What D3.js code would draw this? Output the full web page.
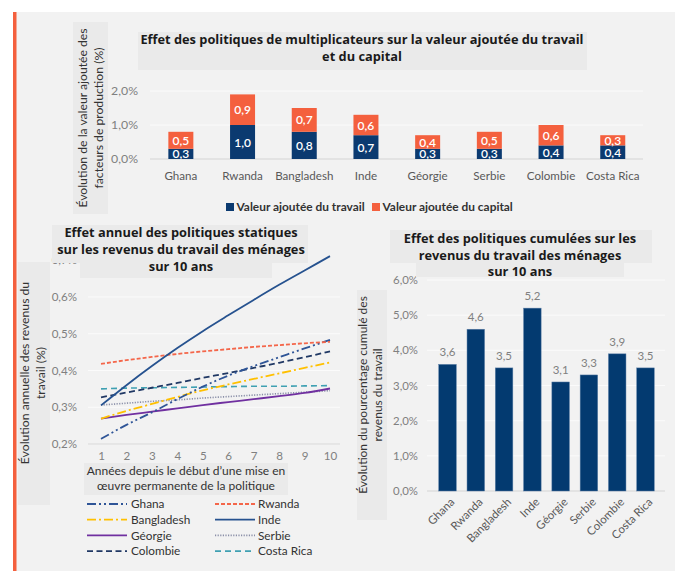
<!DOCTYPE html>
<html>
<head>
<meta charset="utf-8">
<script src="https://cdn.jsdelivr.net/npm/d3@7"></script>
<style>
  body { margin: 0; background: #fff; }
  svg { display: block; font-family: Lato, "Open Sans", sans-serif; }
</style>
</head>
<body>
<svg id="chart" width="675" height="571"></svg>
<script>
// ---- Data ----
const countries = ["Ghana", "Rwanda", "Bangladesh", "Inde", "Géorgie", "Serbie", "Colombie", "Costa Rica"];
const laborValueAdded = [0.3, 1.0, 0.8, 0.7, 0.3, 0.3, 0.4, 0.4];
const capitalValueAdded = [0.5, 0.9, 0.7, 0.6, 0.4, 0.5, 0.6, 0.3];
const valueAddedTicks = [0, 1, 2];

const years = [1, 2, 3, 4, 5, 6, 7, 8, 9, 10];
const ghanaIncome = [0.214, 0.252, 0.286, 0.322, 0.356, 0.386, 0.412, 0.436, 0.460, 0.483];
const rwandaIncome = [0.418, 0.428, 0.437, 0.445, 0.452, 0.458, 0.464, 0.469, 0.474, 0.478];
const bangladeshIncome = [0.269, 0.290, 0.309, 0.328, 0.346, 0.362, 0.377, 0.392, 0.407, 0.422];
const indeIncome = [0.305, 0.360, 0.412, 0.461, 0.507, 0.550, 0.592, 0.633, 0.672, 0.711];
const georgieIncome = [0.269, 0.279, 0.288, 0.297, 0.306, 0.314, 0.322, 0.330, 0.339, 0.351];
const serbieIncome = [0.306, 0.311, 0.316, 0.320, 0.325, 0.329, 0.333, 0.337, 0.341, 0.345];
const colombieIncome = [0.327, 0.340, 0.353, 0.366, 0.380, 0.393, 0.407, 0.421, 0.436, 0.452];
const costaRicaIncome = [0.350, 0.352, 0.353, 0.354, 0.355, 0.356, 0.357, 0.357, 0.358, 0.359];
const incomeTicks = [0.2, 0.3, 0.4, 0.5, 0.6, 0.7];

const cumulativeIncome = [3.6, 4.6, 3.5, 5.2, 3.1, 3.3, 3.9, 3.5];
const cumulativeTicks = [0, 1, 2, 3, 4, 5, 6];

// ---- Helpers ----
const fr = d3.formatLocale({ decimal: ",", thousands: " ", grouping: [3], currency: ["", " €"] });
const f1 = fr.format(".1f");
const pct1 = v => f1(v) + "%";

const NAVY = "#0b3a70";
const ORANGE = "#f4603e";
const PANEL = "#f2f2f2";
const BOX = "#eaeaea";
const TICK = "#808080";
const TEXT = "#333333";
const TITLE_FONT = "'Open Sans', Lato, sans-serif";

const svg = d3.select("#chart");

// Page frame
svg.append("rect").attr("x", 0).attr("y", 0).attr("width", 675).attr("height", 571).attr("fill", "#fff");
svg.append("rect").attr("x", 16).attr("y", 12).attr("width", 659).attr("height", 559).attr("fill", PANEL);
svg.append("rect").attr("x", 13).attr("y", 12).attr("width", 3.5).attr("height", 559).attr("fill", ORANGE);

function box(g, x, y, w, h) {
  g.append("rect").attr("x", x).attr("y", y).attr("width", w).attr("height", h).attr("fill", BOX);
}
function multiline(g, lines, x, y, lh, attrs) {
  const t = g.append("text").attr("x", x).attr("y", y);
  Object.entries(attrs).forEach(([k, v]) => t.attr(k, v));
  lines.forEach((l, i) => t.append("tspan").attr("x", x).attr("dy", i === 0 ? 0 : lh).text(l));
  return t;
}

// =============== Top: stacked value-added bars ===============
{
  const g = svg.append("g");
  const x = d3.scaleBand().domain(countries).range([150, 643.6]).paddingInner(0.6).paddingOuter(0.3);
  const y = d3.scaleLinear().domain([0, 2]).range([159, 91]);

  box(g, 138, 32, 449, 38);
  multiline(g, ["Effet des politiques de multiplicateurs sur la valeur ajoutée du travail", "et du capital"],
    362, 44, 17, { "text-anchor": "middle", "font-weight": 700, "font-size": 12.8, fill: "#1a1a1a", "font-family": TITLE_FONT });

  // y-axis title
  box(g, 73, 22, 35, 192);
  const yt = g.append("g").attr("transform", "translate(90,118) rotate(-90)");
  multiline(yt, ["Évolution de la valeur ajoutée des", "facteurs de production (%)"], 0, -3, 16,
    { "text-anchor": "middle", "font-size": 12.2, fill: TEXT });

  // gridlines
  g.selectAll(".grid").data(valueAddedTicks).join("line")
    .attr("x1", 150).attr("x2", 643).attr("y1", d => y(d)).attr("y2", d => y(d))
    .attr("stroke", d => d === 0 ? "#d4d4d4" : "#fbfbfb").attr("stroke-width", 1);
  const ya = g.append("g").attr("transform", "translate(138,0)")
    .call(d3.axisLeft(y).tickValues(valueAddedTicks).tickFormat(pct1).tickSize(0).tickPadding(0));
  ya.select(".domain").remove();
  ya.selectAll("text").attr("font-size", 12.3).attr("fill", TICK).attr("font-family", "Lato, sans-serif");

  const rows = countries.map((c, i) => ({ c, labor: laborValueAdded[i], capital: capitalValueAdded[i] }));
  const bw = 25;
  const cx = c => x(c) + x.bandwidth() / 2;

  g.selectAll(".lab").data(rows).join("rect")
    .attr("x", d => cx(d.c) - bw / 2).attr("width", bw)
    .attr("y", d => y(d.labor)).attr("height", d => y(0) - y(d.labor)).attr("fill", NAVY);
  g.selectAll(".cap").data(rows).join("rect")
    .attr("x", d => cx(d.c) - bw / 2).attr("width", bw)
    .attr("y", d => y(d.labor + d.capital)).attr("height", d => y(d.labor) - y(d.labor + d.capital)).attr("fill", ORANGE);

  g.selectAll(".labt").data(rows).join("text")
    .attr("x", d => cx(d.c)).attr("y", d => (y(0) + y(d.labor)) / 2 + 4.5)
    .attr("text-anchor", "middle").attr("font-size", 12).attr("font-weight", 600).attr("fill", "#fff")
    .text(d => f1(d.labor));
  g.selectAll(".capt").data(rows).join("text")
    .attr("x", d => cx(d.c)).attr("y", d => (y(d.labor) + y(d.labor + d.capital)) / 2 + 4.5)
    .attr("text-anchor", "middle").attr("font-size", 12).attr("font-weight", 600).attr("fill", "#fff")
    .text(d => f1(d.capital));

  const xa = g.append("g").attr("transform", "translate(0,159)")
    .call(d3.axisBottom(x).tickSize(0).tickPadding(13));
  xa.select(".domain").remove();
  xa.selectAll("text").attr("font-size", 11.6).attr("fill", "#595959").attr("font-family", "Lato, sans-serif");

  // legend
  const leg = [
    { label: "Valeur ajoutée du travail", color: NAVY, x: 226 },
    { label: "Valeur ajoutée du capital", color: ORANGE, x: 372 }
  ];
  const lg = g.selectAll(".leg").data(leg).join("g").attr("transform", d => `translate(${d.x},203)`);
  lg.append("rect").attr("width", 8).attr("height", 8).attr("fill", d => d.color);
  lg.append("text").attr("x", 10.5).attr("y", 8).attr("font-size", 11.9).attr("font-weight", 700)
    .attr("fill", TEXT).text(d => d.label);
}

// =============== Bottom left: annual income lines ===============
{
  const g = svg.append("g");
  const x = d3.scaleLinear().domain([1, 10]).range([101, 330]);
  const y = d3.scaleLinear().domain([0.2, 0.7]).range([444, 260.2]);

  // y-axis title
  box(g, 18, 262, 32, 243);
  const yt = g.append("g").attr("transform", "translate(32,373) rotate(-90)");
  multiline(yt, ["Évolution annuelle des revenus du", "travail (%)"], 0, -3, 15.5,
    { "text-anchor": "middle", "font-size": 12.2, fill: TEXT });

  g.selectAll(".grid").data(incomeTicks.filter(t => t < 0.65)).join("line")
    .attr("x1", 88).attr("x2", 340).attr("y1", d => y(d)).attr("y2", d => y(d))
    .attr("stroke", d => d === 0.2 ? "#d9d9d9" : "#fbfbfb");

  const ya = g.append("g").attr("transform", "translate(77,0)")
    .call(d3.axisLeft(y).tickValues(incomeTicks).tickFormat(pct1).tickSize(0).tickPadding(0));
  ya.select(".domain").remove();
  ya.selectAll("text").attr("font-size", 11.6).attr("fill", TICK).attr("font-family", "Lato, sans-serif");

  const xa = g.append("g").attr("transform", "translate(0,444)")
    .call(d3.axisBottom(x).tickValues(years).tickFormat(d3.format("d")).tickSize(0).tickPadding(8));
  xa.select(".domain").remove();
  xa.selectAll("text").attr("font-size", 11.6).attr("fill", TICK).attr("font-family", "Lato, sans-serif");

  box(g, 84, 463, 204, 32);
  multiline(g, ["Années depuis le début d’une mise en", "œuvre permanente de la politique"], 186, 475, 15,
    { "text-anchor": "middle", "font-size": 12, fill: TEXT });

  const series = [
    { name: "Ghana", values: ghanaIncome, color: "#2f5597", dash: "9,3,2,3,2,3", w: 1.8 },
    { name: "Rwanda", values: rwandaIncome, color: "#f4664a", dash: "4,2", w: 1.8 },
    { name: "Bangladesh", values: bangladeshIncome, color: "#ffc000", dash: "9,3,2,3", w: 1.8 },
    { name: "Inde", values: indeIncome, color: "#26528f", dash: null, w: 1.8 },
    { name: "Géorgie", values: georgieIncome, color: "#7030a0", dash: null, w: 1.8 },
    { name: "Serbie", values: serbieIncome, color: "#8a8fa8", dash: "1.2,1.4", w: 1.6 },
    { name: "Colombie", values: colombieIncome, color: "#203864", dash: "6,3.5", w: 1.8 },
    { name: "Costa Rica", values: costaRicaIncome, color: "#3fa0b2", dash: "6,4", w: 1.6 }
  ];
  const line = d3.line().x((d, i) => x(years[i])).y(d => y(d)).curve(d3.curveMonotoneX);
  const drawOrder = ["Costa Rica", "Serbie", "Géorgie", "Bangladesh", "Colombie", "Ghana", "Rwanda", "Inde"];
  drawOrder.map(n => series.find(s => s.name === n)).forEach(s => {
    g.append("path").attr("d", line(s.values)).attr("fill", "none")
      .attr("stroke", s.color).attr("stroke-width", s.w).attr("stroke-dasharray", s.dash);
  });

  // legend in two columns
  const lg = g.selectAll(".leg").data(series).join("g")
    .attr("transform", (d, i) => `translate(${i % 2 === 0 ? 87 : 215},${504 + Math.floor(i / 2) * 15.7})`);
  lg.append("line").attr("x1", 0).attr("x2", 40).attr("y1", 0).attr("y2", 0)
    .attr("stroke", d => d.color).attr("stroke-width", d => d.w).attr("stroke-dasharray", d => d.dash);
  lg.append("text").attr("x", (d, i) => i % 2 === 0 ? 44 : 43).attr("y", 4.2)
    .attr("font-size", 11.8).attr("fill", TEXT).text(d => d.name);

  // title (drawn last so its panel sits over the top tick label)
  box(g, 52, 225, 256, 38);
  box(g, 80, 262, 192, 16);
  multiline(g, ["Effet annuel des politiques statiques", "sur les revenus du travail des ménages", "sur 10 ans"],
    181, 237, 17, { "text-anchor": "middle", "font-weight": 700, "font-size": 12.8, fill: "#1a1a1a", "font-family": TITLE_FONT });
}

// =============== Bottom right: cumulative income bars ===============
{
  const g = svg.append("g");
  const x = d3.scaleBand().domain(countries).range([428, 665]).padding(0.38);
  const y = d3.scaleLinear().domain([0, 6]).range([491, 280]);

  box(g, 357, 290, 30, 230);
  const yt = g.append("g").attr("transform", "translate(370,395) rotate(-90)");
  multiline(yt, ["Évolution du pourcentage cumulé des", "revenus du travail"], 0, -3, 15,
    { "text-anchor": "middle", "font-size": 12, fill: TEXT });

  g.selectAll(".grid").data(cumulativeTicks).join("line")
    .attr("x1", 427).attr("x2", 665).attr("y1", d => y(d)).attr("y2", d => y(d))
    .attr("stroke", d => d === 0 ? "#d4d4d4" : "#fbfbfb");

  const ya = g.append("g").attr("transform", "translate(418,0)")
    .call(d3.axisLeft(y).tickValues(cumulativeTicks).tickFormat(pct1).tickSize(0).tickPadding(0));
  ya.select(".domain").remove();
  ya.selectAll("text").attr("font-size", 11.4).attr("fill", TICK).attr("font-family", "Lato, sans-serif");

  const rows = countries.map((c, i) => ({ c, v: cumulativeIncome[i] }));
  g.selectAll(".bar").data(rows).join("rect")
    .attr("x", d => x(d.c)).attr("width", x.bandwidth())
    .attr("y", d => y(d.v)).attr("height", d => y(0) - y(d.v))
    .attr("fill", "#033a70").attr("stroke", "#5b7ea6").attr("stroke-width", 0.5);
  g.selectAll(".val").data(rows).join("text")
    .attr("x", d => x(d.c) + x.bandwidth() / 2).attr("y", d => y(d.v) - 8)
    .attr("text-anchor", "middle").attr("font-size", 11.5).attr("fill", TICK)
    .text(d => f1(d.v));

  g.selectAll(".xl").data(countries).join("text")
    .attr("transform", d => `translate(${x(d) + x.bandwidth() / 2 + 5},${500}) rotate(-45)`)
    .attr("text-anchor", "end").attr("dy", "0.35em").attr("font-size", 11.4).attr("fill", "#595959")
    .text(d => d);

  box(g, 390, 230, 262, 33);
  box(g, 416, 262, 208, 15);
  multiline(g, ["Effet des politiques cumulées sur les", "revenus du travail des ménages", "sur 10 ans"],
    520, 243, 16.5, { "text-anchor": "middle", "font-weight": 700, "font-size": 12.8, fill: "#1a1a1a", "font-family": TITLE_FONT });
}
</script>
</body>
</html>
